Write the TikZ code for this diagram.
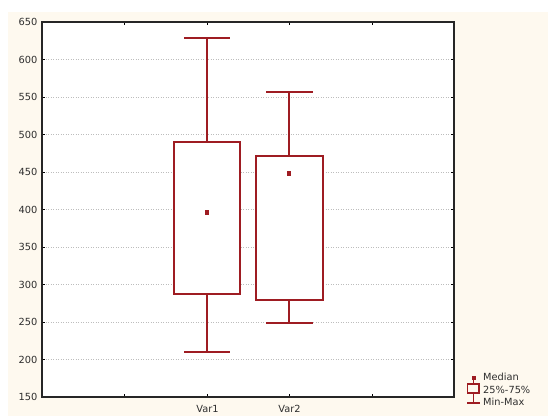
\documentclass[tikz,border=0pt]{standalone}
\usepackage{fontspec}
\setmainfont{DejaVu Sans}
\usepackage{tikz}
\usetikzlibrary{positioning}

\definecolor{cream}{HTML}{FEF9EF}
\definecolor{boxred}{HTML}{9E1C22}
\definecolor{gridgray}{HTML}{BDBDBD}
\definecolor{labgray}{HTML}{2E2E2E}

\tikzset{
  boxline/.style={draw=boxred, line width=2pt},
  medmark/.style={fill=boxred, draw=none},
  gridline/.style={gridgray, line width=0.8pt, dash pattern=on 1.2pt off 1.3pt},
  axlab/.style={text=labgray, inner sep=1pt, font=\fontsize{9.8}{11}\selectfont},
}

\begin{document}
\begin{tikzpicture}[x=1pt, y=1pt]
\useasboundingbox (0,0) rectangle (548,416);
\fill[white] (0,0) rectangle (548,416);
\fill[cream] (8,0) rectangle (548,404);
% plot area
\fill[white] (42,19) rectangle (454,394);
\begin{scope}[y=0.75pt, yshift=-93.5pt]
\foreach \v in {200,250,...,600}
  \draw[gridline] (43,\v)--(453,\v);
\foreach \v in {150,200,...,650}
  \node[axlab, anchor=east] (y\v) at (38.5,\v) {\v};
\foreach \v in {200,250,...,600} {
  \draw[line width=1pt] (42,\v)--(45,\v);
  \draw[line width=1pt] (454,\v)--(451,\v);
}
\foreach \x in {124.5,207,289.5,372} {
  \draw[line width=1pt] (\x,150)--(\x,154);
  \draw[line width=1pt] (\x,650)--(\x,646);
}
\end{scope}
% Var1
\draw[boxline] (207,274)--(207,378);
\draw[boxline] (184,378)--(230,378);
\draw[boxline] (207,122)--(207,64);
\draw[boxline] (184,64)--(230,64);
\draw[boxline, fill=white] (174,122) rectangle (240,274);
\fill[medmark] (205,201) rectangle (209,206);
% Var2
\draw[boxline] (289,260)--(289,324);
\draw[boxline] (266,324)--(313,324);
\draw[boxline] (289,116)--(289,93);
\draw[boxline] (266,93)--(313,93);
\draw[boxline, fill=white] (256,116) rectangle (323,260);
\fill[medmark] (287,240) rectangle (291,245);
\draw[line width=1.6pt, black!85] (42,19) rectangle (454,394);
\node[axlab] (v1) at (207.5,7.5) {Var1};
\node[axlab] (v2) at (289.5,7.5) {Var2};
% legend
\fill[medmark] (471.5,36) rectangle (475.5,40);
\draw[boxline, line width=1.5pt] (473.5,36)--(473.5,32);
\draw[boxline, line width=1.5pt] (467.5,23) rectangle (479,32);
\draw[boxline, line width=1.5pt] (473.5,23)--(473.5,13);
\draw[boxline, line width=1.5pt] (467,13)--(479.5,13);
\node[axlab, anchor=west] (lmed) at (482,39) {Median};
\node[axlab, anchor=west] (lbox) at (482,26.5) {25\%-75\%};
\node[axlab, anchor=west] (lmin) at (482,14) {Min-Max};
\end{tikzpicture}
\end{document}
